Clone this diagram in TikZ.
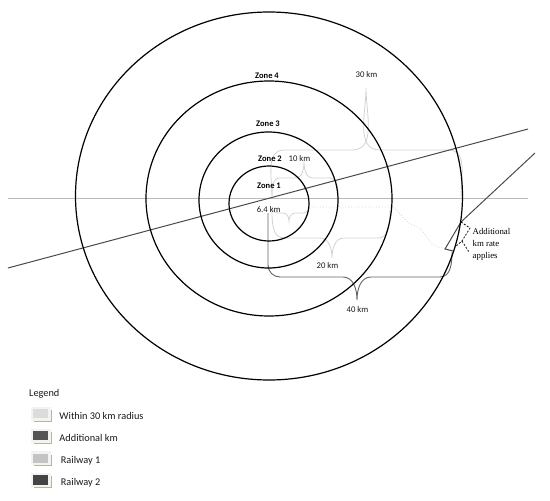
\documentclass[tikz,border=0pt]{standalone}
\usepackage{fontspec}
\setmainfont{Carlito}
\newfontfamily\notefont{Liberation Serif}
\usetikzlibrary{shadows}

\definecolor{bracec}{HTML}{D2D2D2}
\definecolor{extrac}{HTML}{636363}
\definecolor{railonec}{HTML}{BABABA}
\definecolor{railtwoc}{HTML}{4A4A4A}
\definecolor{withinc}{HTML}{DCDCDC}
\definecolor{addkmc}{HTML}{555555}
\definecolor{boxonec}{HTML}{C4C4C4}
\definecolor{boxtwoc}{HTML}{444444}
\definecolor{framec}{HTML}{F3F3F3}
\definecolor{shadowc}{HTML}{B0B89E}

\begin{document}
\begin{tikzpicture}[x=1pt,y=-1pt,
  ring/.style={draw=black, line width=1.2pt},
  railone/.style={draw=railonec, line width=0.9pt},
  railtwo/.style={draw=railtwoc, line width=1pt},
  lightbrace/.style={draw=bracec, line width=0.8pt},
  extrabrace/.style={draw=extrac, line width=0.9pt},
  extradash/.style={draw=black, line width=0.7pt, dash pattern=on 2pt off 1.5pt},
  zonelabel/.style={font=\fontsize{8.5}{10}\selectfont\bfseries, inner sep=0pt},
  kmlabel/.style={font=\fontsize{8.7}{10}\selectfont, text=black!90, inner sep=0pt},
  legtext/.style={font=\fontsize{10.3}{12}\selectfont, text=black!90, inner sep=0pt},
  legbox/.style={minimum width=17.5pt, minimum height=11.5pt, inner sep=0pt,
    draw=framec, line width=2.2pt,
    general shadow={fill=shadowc, shadow xshift=2.2pt, shadow yshift=-2.2pt}}]
\useasboundingbox (0,0) rectangle (550,501);

% light braces (within 30 km)
\draw[lightbrace] (272,196) to[out=90,in=180] (284,150) -- (352,150)
  to[out=0,in=-90] (366,88) to[out=-90,in=180] (380,150) -- (449,150)
  to[out=0,in=90] (461,196);
\draw[lightbrace] (272,196) to[out=90,in=180] (280,178) -- (295,178)
  to[out=0,in=-90] (304,161) to[out=-90,in=180] (313,178) -- (330,178)
  to[out=0,in=90] (338,196);
\draw[lightbrace] (272,207) to[out=-90,in=180] (278,213) -- (283,213)
  to[out=0,in=90] (289,221) to[out=90,in=180] (295,213) -- (303,213)
  to[out=0,in=-90] (309,207);
\draw[lightbrace] (272,210) to[out=-90,in=180] (284,238) -- (320,238)
  to[out=0,in=90] (332,258) to[out=90,in=180] (344,238) -- (378,238)
  to[out=0,in=-90] (390,210);
\draw[lightbrace, dotted] (309,207) -- (389,207) .. controls (400,207) and (402,222) .. (415,226)
  .. controls (428,230) and (425,247) .. (445,248);

% additional km brace
\draw[extrabrace] (268,213) -- (268,265) to[out=-90,in=180] (280,277) -- (343,277)
  to[out=0,in=90] (357,300) to[out=90,in=180] (371,277) -- (440,277)
  to[out=0,in=-90] (452,252);

% railways
\draw[railone] (8,198) -- (528,198);
\draw[railtwo] (8,268) -- (528,129);
\draw[railtwo] (535,153) -- (461,222) -- (445,249) -- (453,251);

% zone rings
\draw[ring] (269,203.5) ellipse [x radius=40pt, y radius=37.5pt];
\draw[ring] (268.5,200) ellipse [x radius=69.5pt, y radius=68pt];
\draw[ring] (269,198.5) ellipse [x radius=123pt, y radius=117.5pt];
\draw[ring] (269,196) ellipse [x radius=193.5pt, y radius=184pt];

\draw[extradash] (461,222) -- (470,228) -- (462,241) -- (455,247);
\draw[extradash] (462,241) -- (469,252);

\node[zonelabel] (zone4) at (267,75.5) {Zone 4};
\node[zonelabel] (zone3) at (268,124) {Zone 3};
\node[zonelabel] (zone2) at (270,158.5) {Zone 2};
\node[zonelabel] (zone1) at (269,186) {Zone 1};

\node[kmlabel] (km30) at (366.5,75) {30 km};
\node[kmlabel] (km10) at (299.5,158.5) {10 km};
\node[kmlabel] (km64) at (268.7,209.5) {6.4 km};
\node[kmlabel] (km20) at (327.5,265.5) {20 km};
\node[kmlabel] (km40) at (357.5,310) {40 km};

\node[anchor=west, align=left, inner sep=0pt, font=\notefont\fontsize{8.8}{12}\selectfont]
  (extranote) at (472.5,244.5) {Additional\\km rate\\applies};

% legend
\node[legtext] (legend) at (44.3,394.3) {Legend};
\node[legbox, fill=withinc] (boxwithin) at (40.8,413.7) {};
\node[legbox, fill=addkmc] (boxaddkm) at (40.8,435.8) {};
\node[legbox, fill=boxonec] (boxrailone) at (40.8,458.3) {};
\node[legbox, fill=boxtwoc] (boxrailtwo) at (40.8,480) {};
\node[legtext, anchor=west] (txtwithin) at (59.3,416) {Within 30 km radius};
\node[legtext, anchor=west] (txtaddkm) at (59.3,438.3) {Additional km};
\node[legtext, anchor=west] (txtrailone) at (60.7,460.7) {Railway 1};
\node[legtext, anchor=west] (txtrailtwo) at (60.7,482.7) {Railway 2};
\end{tikzpicture}
\end{document}
